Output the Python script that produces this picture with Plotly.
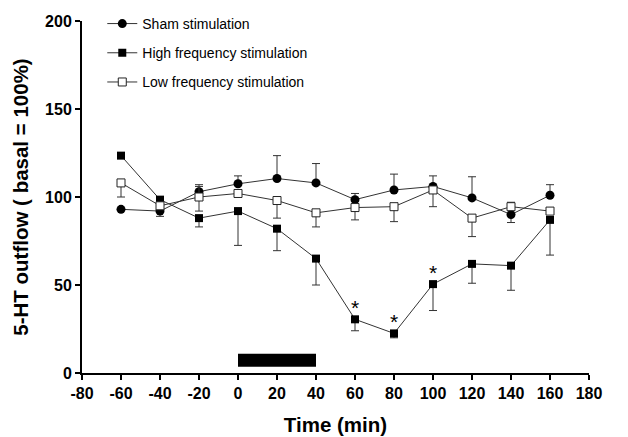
import plotly.graph_objects as go

time = [-60, -40, -20, 0, 20, 40, 60, 80, 100, 120, 140, 160]

sham = [93, 92, 103, 107.5, 110.5, 108, 98.5, 104, 106, 99.5, 90, 101]
sham_err_up = [0, 0, 4, 4.5, 13, 11, 3.5, 9, 6, 12, 0, 6]
sham_err_down = [0, 3, 0, 0, 0, 0, 0, 0, 0, 0, 4.5, 0]

high = [123.5, 98.5, 88, 92, 82, 65, 30.5, 22.5, 50.5, 62, 61, 87]
high_err_down = [0, 0, 5, 19.5, 12.5, 15, 6.5, 2.5, 15, 11, 14, 20]

low = [108, 95, 100, 102, 98, 91, 94, 94.5, 104, 88, 94.5, 92]
low_err_down = [8, 0, 8, 0, 10, 8, 7, 8.5, 9.5, 10.5, 0, 0]
low_err_up = [0, 0, 6, 0, 0, 0, 0, 0, 0, 0, 2.5, 0]

star_times = [60, 80, 100]
star_values = [30.5, 22.5, 50.5]

stim_start, stim_end = 0, 40
x_ticks = list(range(-80, 181, 20))
y_ticks = [0, 50, 100, 150, 200]

line_col = "#333333"
fig = go.Figure()

fig.add_trace(go.Scatter(
    x=time, y=sham, mode="lines+markers", name="Sham stimulation",
    legendgroup="a",
    line=dict(color=line_col, width=1),
    marker=dict(symbol="circle", size=9, color="black"),
    error_y=dict(type="data", symmetric=False, array=sham_err_up,
                 arrayminus=sham_err_down, color=line_col, thickness=1, width=4),
))
fig.add_trace(go.Scatter(
    x=time, y=high, mode="lines+markers", name="High frequency stimulation",
    legendgroup="b",
    line=dict(color=line_col, width=1),
    marker=dict(symbol="square", size=8, color="black"),
    error_y=dict(type="data", symmetric=False, array=[0] * len(time),
                 arrayminus=high_err_down, color=line_col, thickness=1, width=4),
))
fig.add_trace(go.Scatter(
    x=time, y=low, mode="lines+markers", name="Low frequency stimulation",
    legendgroup="c",
    line=dict(color=line_col, width=1),
    marker=dict(symbol="square", size=8, color="white",
                line=dict(color="#222222", width=1)),
    error_y=dict(type="data", symmetric=False, array=low_err_up,
                 arrayminus=low_err_down, color=line_col, thickness=1, width=4),
))

# stimulation bar
fig.add_shape(type="rect", x0=stim_start, x1=stim_end, y0=3.5, y1=11,
              xref="x", yref="y", fillcolor="black", line=dict(width=0))

for t, v in zip(star_times, star_values):
    fig.add_annotation(x=t, y=v, text="*", showarrow=False, yshift=12,
                       font=dict(size=21, color="black", family="Liberation Sans"))

tick_font = dict(size=16, family="Liberation Sans", color="black")

# the page body has an 8px margin, so the figure is sized to fit the window
fig.update_layout(
    width=620, height=429,
    margin=dict(l=74, r=39, t=13, b=64, autoexpand=False),
    paper_bgcolor="white", plot_bgcolor="white",
    font=dict(family="Liberation Sans, Arial, sans-serif", color="black"),
    showlegend=True,
    legend=dict(x=0.04, y=1.037, xanchor="left", yanchor="top",
                bgcolor="rgba(0,0,0,0)", font=dict(size=14),
                tracegroupgap=8, itemwidth=30),
    xaxis=dict(range=[-80, 180], tickvals=x_ticks,
               ticktext=[f"<b>{v}</b>" for v in x_ticks],
               showgrid=False, zeroline=False, automargin=False,
               showline=True, linecolor="black", linewidth=2,
               ticks="outside", ticklen=5, tickwidth=2, tickcolor="black",
               tickfont=tick_font,
               title=dict(text="<b>Time (min)</b>", font=dict(size=20.5), standoff=16)),
    yaxis=dict(range=[0, 200], tickvals=y_ticks,
               ticktext=[f"<b>{v}</b>" for v in y_ticks],
               showgrid=False, zeroline=False, automargin=False,
               showline=True, linecolor="black", linewidth=2,
               ticks="outside", ticklen=5, tickwidth=2, tickcolor="black",
               tickfont=tick_font,
               title=dict(text="<b>5-HT outflow ( basal = 100%)</b>", font=dict(size=20.5), standoff=11)),
)

fig.write_html("out.html")
